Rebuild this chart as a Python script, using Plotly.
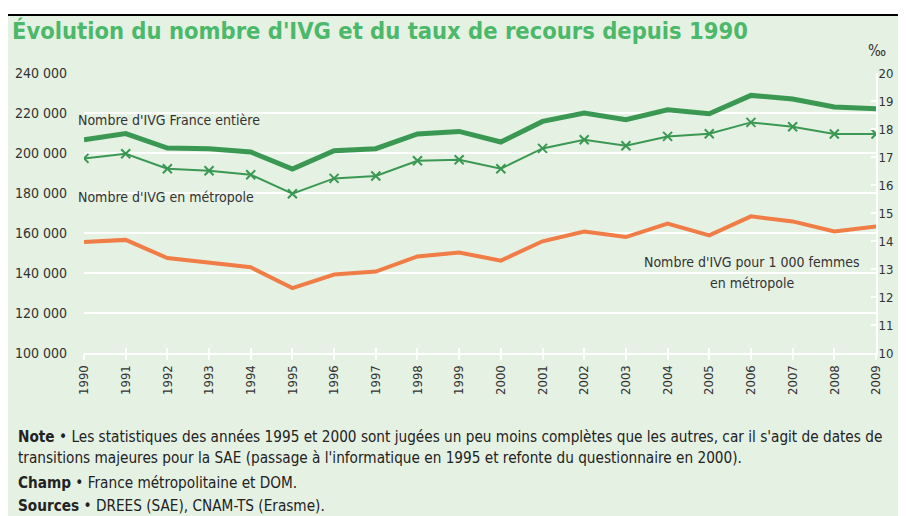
import plotly.graph_objects as go

years = list(range(1990, 2010))

ivg_france = [206650, 209700, 202500, 202150, 200500, 192000, 201150, 202150, 209500, 210800,
              205500, 215800, 220000, 216650, 221650, 219650, 228800, 227000, 223000, 222150]
ivg_metropole = [197300, 199650, 192150, 191150, 189150, 179650, 187300, 188500, 196150, 196650,
                 192150, 202300, 206650, 203650, 208300, 209650, 215300, 213150, 209500, 209500]
taux_metropole = [13.96, 14.04, 13.39, 13.24, 13.06, 12.32, 12.80, 12.91, 13.45, 13.59,
                  13.30, 13.99, 14.34, 14.14, 14.62, 14.20, 14.88, 14.70, 14.34, 14.52]

left_ticks = [100000, 120000, 140000, 160000, 180000, 200000, 220000, 240000]
left_labels = ["100 000", "120 000", "140 000", "160 000", "180 000", "200 000", "220 000", "240 000"]
right_ticks = list(range(10, 21))

# the page adds an 8px body margin and only ~898px are visible across
OFF = 8
W, H = 906 - 2 * OFF, 516 - OFF
ML, MT = 84 - OFF, 73 - OFF
PW, PH = 792, 280
MR = W - ML - PW
MB = H - MT - PH

COND = "DejaVu Sans Condensed, Liberation Sans Narrow, Arial Narrow, sans-serif"
BG = "#e5f1e3"
GREEN = "#3a9853"
ORANGE = "#f07c46"
TXT = "#333333"


# positions below are given in window pixels
def px(x):
    return (x - OFF - ML) / PW


def py(y):
    return (H - MB - (y - OFF)) / PH


fig = go.Figure()

fig.add_scatter(x=years, y=ivg_france, mode="lines", line=dict(color=GREEN, width=5),
                showlegend=False)
fig.add_scatter(x=years, y=ivg_metropole, mode="lines+markers",
                line=dict(color=GREEN, width=2),
                marker=dict(symbol="x-thin", size=9, line=dict(color=GREEN, width=2)),
                showlegend=False)
fig.add_scatter(x=years, y=taux_metropole, mode="lines", line=dict(color=ORANGE, width=4),
                xaxis="x2", yaxis="y2", showlegend=False)

axis_font = dict(family=COND, size=14, color=TXT)

fig.update_layout(
    width=W,
    height=H,
    margin=dict(l=ML, r=MR, t=MT, b=MB, pad=0),
    paper_bgcolor="white",
    plot_bgcolor="rgba(0,0,0,0)",
    xaxis=dict(range=[1990, 2009], tickvals=years, tickangle=-90, automargin=False,
               tickfont=dict(family=COND, size=13, color=TXT),
               showgrid=False, zeroline=False, showline=True, linecolor="white", linewidth=2,
               ticks="outside", ticklen=5, tickcolor="white", tickwidth=2),
    xaxis2=dict(range=[1990, 2009], overlaying="x", anchor="y2", side="bottom", tickvals=years,
                automargin=False, showticklabels=False, showgrid=False, zeroline=False,
                ticks="inside", ticklen=5, tickcolor="white", tickwidth=2),
    yaxis=dict(range=[100000, 240000], tickvals=left_ticks, ticktext=left_labels, tickfont=axis_font,
               automargin=False, showgrid=True, gridcolor="white", gridwidth=2, zeroline=False,
               ticks="", ticklabelstandoff=16),
    yaxis2=dict(range=[10, 20], overlaying="y", anchor="x2", side="right", tickvals=right_ticks,
                automargin=False, tickfont=dict(family=COND, size=13, color=TXT), showgrid=False,
                zeroline=False, showline=True, linecolor="white", linewidth=2, ticks="inside",
                ticklen=5, tickcolor="white", tickwidth=2, ticklabelstandoff=-2),
)

# background panel with black frame
fig.add_shape(type="rect", xref="paper", yref="paper", x0=px(7), x1=px(940), y0=py(560), y1=py(15),
              fillcolor=BG, line=dict(color="black", width=2), layer="below")

fig.add_annotation(xref="paper", yref="paper", x=px(10), y=py(31), xanchor="left", yanchor="middle",
                   text="<b>Évolution du nombre d'IVG et du taux de recours depuis 1990</b>",
                   font=dict(family=COND, size=23.5, color="#4cb86a"), showarrow=False)
fig.add_annotation(xref="paper", yref="paper", x=px(877), y=py(51), xanchor="center", yanchor="middle",
                   text="‰", font=dict(family=COND, size=15, color=TXT), showarrow=False)

labels = [
    (76, 120, "left", "Nombre d'IVG France entière"),
    (76, 197, "left", "Nombre d'IVG en métropole"),
    (752, 262, "center", "Nombre d'IVG pour 1 000 femmes"),
    (752, 283, "center", "en métropole"),
]
for x, y, anchor, text in labels:
    fig.add_annotation(xref="paper", yref="paper", x=px(x), y=py(y), xanchor=anchor, yanchor="middle",
                       text=text, font=dict(family=COND, size=14, color=TXT), showarrow=False)

notes = [
    (437, "<b>Note</b> • Les statistiques des années 1995 et 2000 sont jugées un peu moins complètes que les autres, car il s'agit de dates de"),
    (458, "transitions majeures pour la SAE (passage à l'informatique en 1995 et refonte du questionnaire en 2000)."),
    (483, "<b>Champ</b> • France métropolitaine et DOM."),
    (506, "<b>Sources</b> • DREES (SAE), CNAM-TS (Erasme)."),
]
for y, text in notes:
    fig.add_annotation(xref="paper", yref="paper", x=px(16), y=py(y), xanchor="left", yanchor="middle",
                       text=text, font=dict(family=COND, size=15.2, color="#222222"), showarrow=False)

fig.write_html("out.html")
